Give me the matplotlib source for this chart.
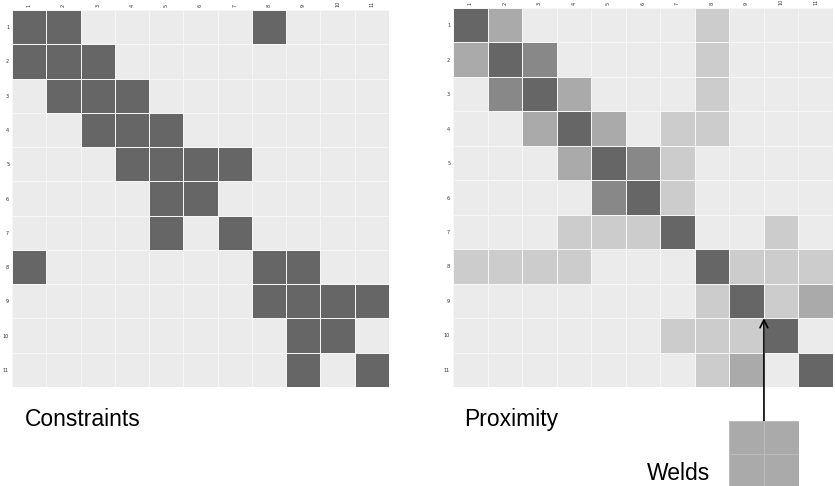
import numpy as np
import matplotlib
matplotlib.use("Agg")
import matplotlib.pyplot as plt
from matplotlib.colors import ListedColormap

labels = [str(i) for i in range(1, 12)]

# Constraints: 1 = constrained pair (row, [cols])
constraint_rows = {
    1: [1, 2, 8],
    2: [1, 2, 3],
    3: [2, 3, 4],
    4: [3, 4, 5],
    5: [4, 5, 6, 7],
    6: [5, 6],
    7: [5, 7],
    8: [1, 8, 9],
    9: [8, 9, 10, 11],
    10: [9, 10],
    11: [9, 11],
}

# Proximity levels 0..4 : row -> {col: level}
proximity_rows = {
    1: {1: 4, 2: 2, 8: 1},
    2: {1: 2, 2: 4, 3: 3, 8: 1},
    3: {2: 3, 3: 4, 4: 2, 8: 1},
    4: {3: 2, 4: 4, 5: 2, 7: 1, 8: 1},
    5: {4: 2, 5: 4, 6: 3, 7: 1},
    6: {5: 3, 6: 4, 7: 1},
    7: {4: 1, 5: 1, 6: 1, 7: 4, 10: 1},
    8: {1: 1, 2: 1, 3: 1, 4: 1, 8: 4, 9: 1, 10: 1, 11: 1},
    9: {8: 1, 9: 4, 10: 1, 11: 2},
    10: {7: 1, 8: 1, 9: 1, 10: 4},
    11: {8: 1, 9: 2, 11: 4},
}

level_colors = ["#ebebeb", "#cccccc", "#aaaaaa", "#888888", "#666666"]

n = len(labels)
C = np.zeros((n, n))
for r, cols in constraint_rows.items():
    for c in cols:
        C[r - 1, c - 1] = 4
P = np.zeros((n, n))
for r, d in proximity_rows.items():
    for c, v in d.items():
        P[r - 1, c - 1] = v

cmap = ListedColormap(level_colors)

fig = plt.figure(figsize=(8.35, 4.86), dpi=100)
ax1 = fig.add_axes([12/835, 1-387/486, 377/835, 377/486])
ax2 = fig.add_axes([453/835, 1-387/486, 380/835, 379/486])

for ax, M in ((ax1, C), (ax2, P)):
    x = np.arange(n + 1) + 0.5
    ax.pcolormesh(x, x, M, cmap=cmap, vmin=-0.5, vmax=4.5,
                  edgecolors="#f6f6f6", linewidth=0.45)
    ax.set_xlim(0.5, n + 0.5)
    ax.set_ylim(n + 0.5, 0.5)
    ax.set_xticks(range(1, n + 1))
    ax.set_yticks(range(1, n + 1))
    ax.set_xticklabels(labels, rotation=90, fontsize=3.5, color="#333333")
    ax.set_yticklabels(labels, fontsize=3.5, color="#333333")
    ax.xaxis.tick_top()
    ax.tick_params(length=0, pad=2)
    for s in ax.spines.values():
        s.set_visible(False)

# Welds legend-ish box
axw = fig.add_axes([729/835, 0, 70/835, 65/486])
axw.pcolormesh([0, 1, 2], [0, 1, 2], np.full((2, 2), 2.0), cmap=cmap,
               vmin=-0.5, vmax=4.5, edgecolors="#bbbbbb", linewidth=0.4)
axw.set_xlim(0, 2)
axw.set_ylim(0, 2)
axw.set_xticks([])
axw.set_yticks([])
for s in axw.spines.values():
    s.set_visible(False)

ax2.annotate("", xy=(9.5, 9.5), xycoords=ax2.transData,
             xytext=(0.5, 0.5), textcoords=axw.transAxes,
             arrowprops=dict(arrowstyle="->", color="black", lw=1.2,
                             shrinkA=0, shrinkB=0, mutation_scale=14))

font = "Liberation Sans"
fig.text(25/835, 1-426/486, "Constraints", fontsize=16.5, family=font,
         va="baseline", ha="left")
fig.text(464/835, 1-426/486, "Proximity", fontsize=16.5, family=font,
         va="baseline", ha="left")
fig.text(647/835, 1-480/486, "Welds", fontsize=16.5, family=font,
         va="baseline", ha="left")

fig.savefig("out.png", dpi=100)
